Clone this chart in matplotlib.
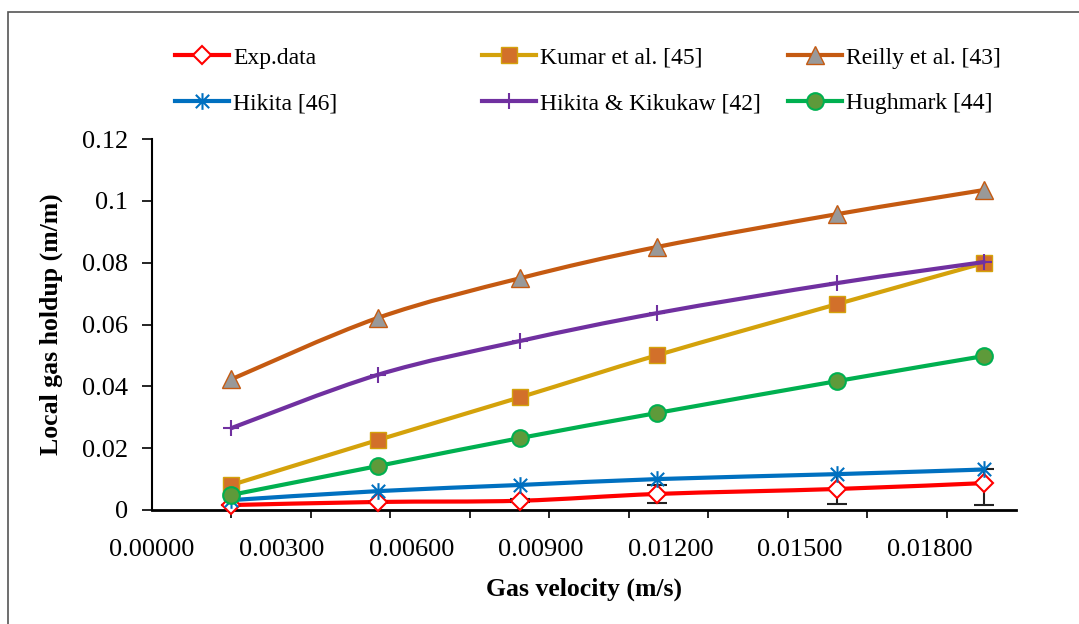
import numpy as np
import matplotlib
matplotlib.use("Agg")
import matplotlib.pyplot as plt
from matplotlib.path import Path
from matplotlib.patches import PathPatch, Rectangle
from matplotlib.lines import Line2D

plt.rcParams['font.family'] = ['Liberation Serif', 'DejaVu Serif']

# ---- data ----
gas_velocity = [0.00184, 0.00522, 0.00853, 0.01170, 0.01586, 0.01926]
exp_data = [0.0016, 0.0026, 0.0030, 0.0052, 0.0068, 0.0087]
exp_err_low = [0.0, 0.0, 0.0005, 0.0030, 0.0048, 0.0070]
exp_err_high = [0.0, 0.0, 0.0005, 0.0030, 0.0048, 0.0045]
kumar = [0.0081, 0.0226, 0.0365, 0.0501, 0.0666, 0.0799]
reilly = [0.0423, 0.0621, 0.0750, 0.0851, 0.0957, 0.1035]
hikita = [0.0032, 0.0061, 0.0081, 0.0100, 0.0116, 0.0131]
hikita_kikukaw = [0.0265, 0.0437, 0.0547, 0.0637, 0.0734, 0.0802]
hughmark = [0.0049, 0.0142, 0.0233, 0.0314, 0.0417, 0.0498]

x_tick_labels = ["0.00000", "0.00300", "0.00600", "0.00900", "0.01200", "0.01500", "0.01800"]
y_tick_labels = ["0", "0.02", "0.04", "0.06", "0.08", "0.1", "0.12"]

W, H = 1079, 624
fig = plt.figure(figsize=(W / 100, H / 100), dpi=100)
ax = fig.add_axes([152 / W, 1 - 510 / H, (1016 - 152) / W, (510 - 139) / H])

# outer border (figure is cropped on right/bottom)
fig.patches.append(Rectangle((8 / W, -0.1), 1.2, 1 - 12 / H + 0.1, transform=fig.transFigure,
                             fill=False, edgecolor='#555555', lw=1.2, zorder=0))

# asterisk-like marker (Excel star)
star_verts = [(0, -1), (0, 1), (-0.8, -0.8), (0.8, 0.8), (-0.8, 0.8), (0.8, -0.8)]
star_codes = [Path.MOVETO, Path.LINETO] * 3
star_marker = Path(star_verts, star_codes)


def smooth_path(xs, ys):
    pts = np.column_stack([xs, ys])
    n = len(pts)
    verts = [pts[0]]
    codes = [Path.MOVETO]
    for i in range(n - 1):
        p0 = pts[i - 1] if i > 0 else pts[i]
        p1 = pts[i]
        p2 = pts[i + 1]
        p3 = pts[i + 2] if i + 2 < n else pts[i + 1]
        c1 = p1 + (p2 - p0) / 6.0
        c2 = p2 - (p3 - p1) / 6.0
        verts += [c1, c2, p2]
        codes += [Path.CURVE4] * 3
    return Path(verts, codes)


series = [
    dict(name="Exp.data", y=exp_data, color='#FF0000', marker='D', ms=9.5, mfc='white', mec='#FF0000', mew=1.5),
    dict(name="Kumar et al. [45]", y=kumar, color='#D4A20B', marker='s', ms=11, mfc='#D2702A', mec='#D4A20B', mew=1.0),
    dict(name="Reilly et al. [43]", y=reilly, color='#C55A11', marker='^', ms=12.5, mfc='#999999', mec='#C55A11', mew=1.0),
    dict(name="Hikita [46]", y=hikita, color='#0070C0', marker=star_marker, ms=12, mfc='none', mec='#0070C0', mew=1.5),
    dict(name="Hikita & Kikukaw [42]", y=hikita_kikukaw, color='#7030A0', marker='+', ms=12, mfc='#7030A0', mec='#7030A0', mew=1.5),
    dict(name="Hughmark [44]", y=hughmark, color='#00B050', marker='o', ms=12, mfc='#5E9A3A', mec='#00B050', mew=1.5),
]

handles = {}
z = 3
for s in series:
    patch = PathPatch(smooth_path(gas_velocity, s['y']), fill=False, edgecolor=s['color'], lw=3.0,
                      zorder=z, capstyle='round', joinstyle='round')
    ax.add_patch(patch)
    if s['name'] == "Exp.data":
        ax.errorbar(gas_velocity, s['y'], yerr=[exp_err_low, exp_err_high], fmt='none', ecolor='#222222',
                    elinewidth=1.5, capsize=7, capthick=1.5, zorder=z + 0.5)
    ax.plot(gas_velocity, s['y'], linestyle='none', marker=s['marker'], ms=s['ms'], mfc=s['mfc'],
            mec=s['mec'], mew=s['mew'], zorder=z + 1, clip_on=False)
    handles[s['name']] = Line2D([], [], color=s['color'], lw=3.0, marker=s['marker'], ms=s['ms'],
                                mfc=s['mfc'], mec=s['mec'], mew=s['mew'])
    z += 2

ax.set_xlim(0, 0.0200)
ax.set_ylim(0, 0.12)

ax.set_xticks([0.003 * i for i in range(len(x_tick_labels))])
ax.set_xticklabels(x_tick_labels)
ax.set_xticks([0.00184 * i for i in range(11)], minor=True)
ax.tick_params(axis='x', which='major', length=0, pad=21, labelsize=19)
ax.tick_params(axis='x', which='minor', length=6, width=1.2, direction='out', color='black')

ax.set_yticks([0.02 * i for i in range(len(y_tick_labels))])
ax.set_yticklabels(y_tick_labels)
ax.tick_params(axis='y', which='major', length=7, width=1.2, direction='out', labelsize=19, pad=10)

for side in ['top', 'right']:
    ax.spines[side].set_visible(False)
ax.spines['left'].set_linewidth(1.5)
ax.spines['bottom'].set_linewidth(2.0)

ax.set_xlabel("Gas velocity (m/s)", fontsize=18.5, fontweight='bold', labelpad=12)
ax.set_ylabel("Local gas holdup (m/m)", fontsize=18.5, fontweight='bold', labelpad=14)

cols = [["Exp.data", "Hikita [46]"],
        ["Kumar et al. [45]", "Hikita & Kikukaw [42]"],
        ["Reilly et al. [43]", "Hughmark [44]"]]
col_x = [175, 482, 788]
for cx, names in zip(col_x, cols):
    fig.legend([handles[n] for n in names], names, loc='upper left',
               bbox_to_anchor=(cx / W, 1 - 47 / H), frameon=False, fontsize=17,
               handlelength=2.29, handletextpad=0.17, labelspacing=1.02, borderpad=0,
               borderaxespad=0, numpoints=1)

fig.savefig("out.png", dpi=100, facecolor='white')
